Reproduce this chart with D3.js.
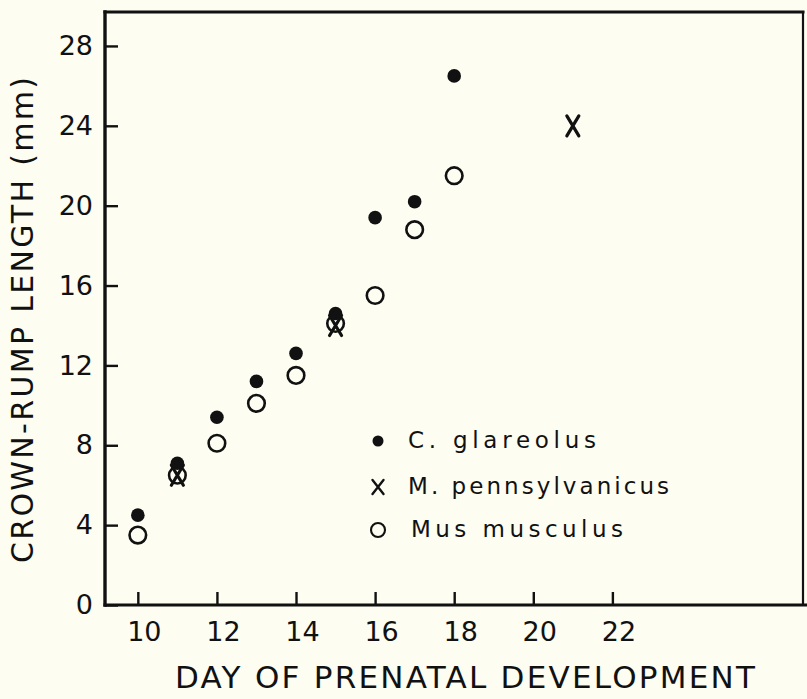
<!DOCTYPE html>
<html>
<head>
<meta charset="utf-8">
<script src="https://cdn.jsdelivr.net/npm/d3@7"></script>
<style>
  html, body { margin: 0; padding: 0; background: #fdfdf1; }
  svg { display: block; }
  text { font-family: "DejaVu Sans", sans-serif; fill: #111; }
</style>
</head>
<body>
<svg id="chart" width="807" height="699"></svg>
<script>
// Crown-rump length of embryos by day of prenatal development
const days = [10, 11, 12, 13, 14, 15, 16, 17, 18];
const glareolus = [4.5, 7.1, 9.4, 11.2, 12.6, 14.6, 19.4, 20.2, 26.5];
const musculus = [3.5, 6.5, 8.1, 10.1, 11.5, 14.1, 15.5, 18.8, 21.5];
const pennsylvanicusDays = [11, 15, 21];
const pennsylvanicus = [6.5, 14.0, 24.0];

const xTicks = [10, 12, 14, 16, 18, 20, 22];
const yTicks = [0, 4, 8, 12, 16, 20, 24, 28];

const legendNames = ["C. glareolus", "M. pennsylvanicus", "Mus musculus"];
const legendKinds = ["dot", "cross", "ring"];

const xTitle = "DAY OF PRENATAL DEVELOPMENT";
const yTitle = "CROWN-RUMP LENGTH (mm)";

const svg = d3.select("#chart");
const ink = "#111";

// plot box
const boxL = 105, boxT = 12, boxR = 803, boxB = 605;

const x = d3.scaleLinear().domain([9.17, 26.82]).range([boxL, boxR]);
const y = d3.scaleLinear().domain([0, 29.7]).range([boxB, boxT]);

// axes with inward ticks
const yAxis = svg.append("g")
  .attr("transform", `translate(${boxL},0)`)
  .call(d3.axisLeft(y).tickValues(yTicks).tickSize(-13).tickPadding(12).tickFormat(d3.format("d")));
yAxis.select(".domain").remove();
yAxis.selectAll(".tick line").attr("stroke", ink).attr("stroke-width", 2.4);
yAxis.selectAll(".tick text").attr("font-size", 27).attr("fill", ink)
  .style("font-family", "DejaVu Sans, sans-serif");

const xAxis = svg.append("g")
  .attr("transform", `translate(0,${boxB})`)
  .call(d3.axisBottom(x).tickValues(xTicks).tickSize(-13).tickPadding(17).tickFormat(d3.format("d")));
xAxis.select(".domain").remove();
xAxis.selectAll(".tick line").attr("stroke", ink).attr("stroke-width", 2.4);
xAxis.selectAll(".tick text").attr("font-size", 27).attr("fill", ink).attr("dx", 6)
  .style("font-family", "DejaVu Sans, sans-serif");

// frame
const frame = svg.append("g").attr("stroke", ink).attr("fill", "none").attr("stroke-linecap", "square");
frame.append("line").attr("x1", boxL).attr("y1", boxT).attr("x2", boxL).attr("y2", boxB).attr("stroke-width", 3.4);
frame.append("line").attr("x1", boxL).attr("y1", boxT).attr("x2", boxR).attr("y2", boxT).attr("stroke-width", 3);
frame.append("line").attr("x1", boxR).attr("y1", boxT).attr("x2", boxR).attr("y2", boxB).attr("stroke-width", 2.2);
frame.append("line").attr("x1", boxL).attr("y1", boxB).attr("x2", 807).attr("y2", boxB).attr("stroke-width", 3);

// marker drawing helpers
function drawDot(g, cx, cy, r) {
  g.append("circle").attr("cx", cx).attr("cy", cy).attr("r", r).attr("fill", ink);
}
function drawRing(g, cx, cy, r, w) {
  g.append("circle").attr("cx", cx).attr("cy", cy).attr("r", r)
    .attr("fill", "none").attr("stroke", ink).attr("stroke-width", w);
}
function drawCross(g, cx, cy, hw, hh, w) {
  g.append("path")
    .attr("d", `M${cx - hw},${cy - hh}L${cx + hw},${cy + hh}M${cx + hw},${cy - hh}L${cx - hw},${cy + hh}`)
    .attr("stroke", ink).attr("stroke-width", w).attr("fill", "none").attr("stroke-linecap", "round");
}

const marks = svg.append("g");

// Mus musculus: open circles
const ringG = marks.append("g");
days.forEach((d, i) => drawRing(ringG, x(d), y(musculus[i]), 8.3, 2.6));

// M. pennsylvanicus: crosses
const crossG = marks.append("g");
pennsylvanicusDays.forEach((d, i) => drawCross(crossG, x(d), y(pennsylvanicus[i]), 6, 10, 3.2));

// C. glareolus: filled dots
const dotG = marks.append("g");
days.forEach((d, i) => drawDot(dotG, x(d), y(glareolus[i]), 6.8));

// legend
const legend = svg.append("g");
const legendSymX = 378, legendTextX = 408;
const legendRowY = [441, 487, 530];
const legendTextW = [188, 261, 212];
legendNames.forEach((name, i) => {
  const cy = legendRowY[i];
  if (legendKinds[i] === "dot") drawDot(legend, legendSymX, cy, 5.5);
  else if (legendKinds[i] === "cross") drawCross(legend, legendSymX, cy, 5.5, 7, 2.4);
  else drawRing(legend, legendSymX, cy, 7, 2.1);
  legend.append("text")
    .attr("x", legendTextX + (i === 2 ? 3 : 0))
    .attr("y", cy + 7)
    .attr("font-size", 23)
    .attr("textLength", legendTextW[i])
    .attr("lengthAdjust", "spacing")
    .text(name);
});

// axis titles
svg.append("text")
  .attr("x", 175).attr("y", 688)
  .attr("font-size", 31)
  .attr("textLength", 580)
  .attr("lengthAdjust", "spacing")
  .text(xTitle);

svg.append("text")
  .attr("transform", "translate(33,563) rotate(-90)")
  .attr("x", 0).attr("y", 0)
  .attr("font-size", 30)
  .attr("textLength", 486)
  .attr("lengthAdjust", "spacing")
  .text(yTitle);
</script>
</body>
</html>
